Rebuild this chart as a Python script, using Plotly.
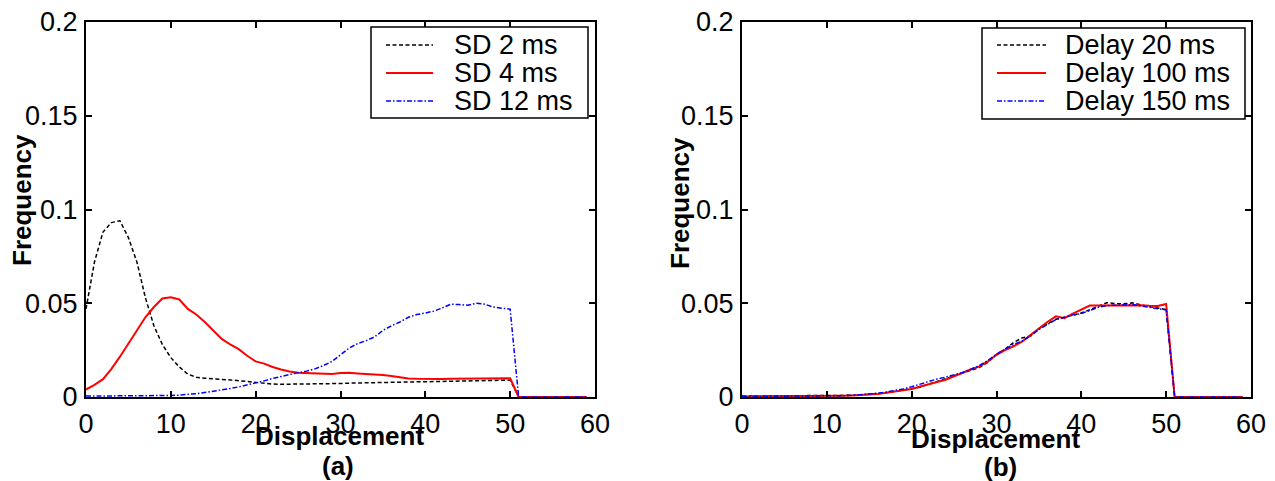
import plotly.graph_objects as go

# ---------------- data ----------------
displacement = list(range(60))

sd_2ms = [0.047, 0.072, 0.088, 0.093, 0.094, 0.085, 0.072, 0.053, 0.038, 0.028,
          0.021, 0.016, 0.0122, 0.0105, 0.0100, 0.0098, 0.0095, 0.0091, 0.0087, 0.0082,
          0.0076, 0.0071, 0.0069, 0.0068, 0.0068, 0.0069, 0.0070, 0.0071, 0.0071, 0.0071,
          0.0072, 0.0074, 0.0075, 0.0076, 0.0077, 0.0078, 0.0078, 0.0079, 0.0079, 0.0080,
          0.0080, 0.0081, 0.0082, 0.0084, 0.0085, 0.0086, 0.0087, 0.0088, 0.0089, 0.0090,
          0.0090, 0, 0, 0, 0, 0, 0, 0, 0, 0]

sd_4ms = [0.004, 0.0065, 0.0095, 0.015, 0.0215, 0.0285, 0.036, 0.0425, 0.048, 0.0525,
          0.0532, 0.052, 0.047, 0.044, 0.040, 0.0355, 0.031, 0.028, 0.0255, 0.022,
          0.019, 0.0178, 0.016, 0.0147, 0.0136, 0.013, 0.0128, 0.0128, 0.0127, 0.0123,
          0.0128, 0.0129, 0.0126, 0.0124, 0.0123, 0.0117, 0.0112, 0.0105, 0.0099, 0.0097,
          0.0096, 0.0096, 0.0096, 0.0097, 0.0098, 0.0099, 0.0099, 0.0099, 0.0099, 0.0099,
          0.0100, 0, 0, 0, 0, 0, 0, 0, 0, 0]

sd_12ms = [0.0005, 0.0005, 0.0005, 0.0005, 0.0005, 0.0005, 0.0005, 0.0005, 0.0005, 0.0006,
           0.0008, 0.0010, 0.0013, 0.0018, 0.0024, 0.0030, 0.0036, 0.0045, 0.0054, 0.0064,
           0.0074, 0.0086, 0.0099, 0.0110, 0.0120, 0.0130, 0.0138, 0.0150, 0.0168, 0.0190,
           0.0225, 0.0260, 0.0285, 0.0300, 0.0320, 0.0355, 0.0380, 0.0400, 0.0425, 0.0440,
           0.0448, 0.0458, 0.0475, 0.0495, 0.0493, 0.0490, 0.0500, 0.0495, 0.0480, 0.0475,
           0.0468, 0, 0, 0, 0, 0, 0, 0, 0, 0]

delay_20ms = [0.0005, 0.0005, 0.0005, 0.0005, 0.0005, 0.0005, 0.0005, 0.0005, 0.0005, 0.0005,
              0.0006, 0.0007, 0.0008, 0.0009, 0.0011, 0.0014, 0.0018, 0.0023, 0.0030, 0.0037,
              0.0045, 0.0052, 0.0068, 0.0083, 0.0098, 0.0115, 0.0128, 0.0143, 0.0158, 0.0185,
              0.0228, 0.0255, 0.0290, 0.0315, 0.0325, 0.0365, 0.0390, 0.0415, 0.0425, 0.0435,
              0.0448, 0.0465, 0.0485, 0.0503, 0.0498, 0.0497, 0.0502, 0.0490, 0.0482, 0.0475,
              0.0466, 0, 0, 0, 0, 0, 0, 0, 0, 0]

delay_100ms = [0.0003, 0.0003, 0.0003, 0.0003, 0.0003, 0.0003, 0.0003, 0.0003, 0.0003, 0.0004,
               0.0005, 0.0006, 0.0007, 0.0008, 0.0010, 0.0012, 0.0016, 0.0022, 0.0028, 0.0035,
               0.0043, 0.0056, 0.0070, 0.0080, 0.0092, 0.0112, 0.0131, 0.0148, 0.0163, 0.0190,
               0.0225, 0.0250, 0.0270, 0.0295, 0.0330, 0.0367, 0.0400, 0.0430, 0.0420, 0.0445,
               0.0465, 0.0488, 0.0488, 0.0488, 0.0489, 0.0490, 0.0492, 0.0490, 0.0487, 0.0485,
               0.0496, 0, 0, 0, 0, 0, 0, 0, 0, 0]

delay_150ms = [0.0003, 0.0003, 0.0003, 0.0003, 0.0003, 0.0003, 0.0003, 0.0003, 0.0003, 0.0004,
               0.0005, 0.0006, 0.0007, 0.0009, 0.0012, 0.0016, 0.0020, 0.0027, 0.0034, 0.0043,
               0.0055, 0.0068, 0.0085, 0.0096, 0.0106, 0.0118, 0.0130, 0.0148, 0.0168, 0.0195,
               0.0228, 0.0255, 0.0280, 0.0298, 0.0325, 0.0360, 0.0385, 0.0412, 0.0425, 0.0438,
               0.0445, 0.0460, 0.0478, 0.0488, 0.0490, 0.0488, 0.0493, 0.0486, 0.0478, 0.0470,
               0.0464, 0, 0, 0, 0, 0, 0, 0, 0, 0]

x_ticks = [0, 10, 20, 30, 40, 50, 60]
y_ticks = [0, 0.05, 0.1, 0.15, 0.2]
y_tick_labels = ["0", "0.05", "0.1", "0.15", "0.2"]

left_names = ["SD 2 ms", "SD 4 ms", "SD 12 ms"]
right_names = ["Delay 20 ms", "Delay 100 ms", "Delay 150 ms"]

# ---------------- styling ----------------
W, H = 1275, 481
FONT = "Liberation Sans, Arial, Helvetica, sans-serif"
styles = [
    dict(color="black", width=1.5, dash="4px,2.5px"),
    dict(color="red", width=2, dash="solid"),
    dict(color="blue", width=1.5, dash="5px,2px,1.5px,2px"),
]


def px_x(p):
    return p / W


def px_y(p):
    return 1 - p / H


fig = go.Figure()

for name, ys, st in zip(left_names, [sd_2ms, sd_4ms, sd_12ms], styles):
    fig.add_trace(go.Scatter(x=displacement, y=ys, mode="lines", name=name,
                             line=st, xaxis="x", yaxis="y", showlegend=False))
for name, ys, st in zip(right_names, [delay_20ms, delay_100ms, delay_150ms], styles):
    fig.add_trace(go.Scatter(x=displacement, y=ys, mode="lines", name=name,
                             line=st, xaxis="x2", yaxis="y2", showlegend=False))

y_domain = [px_y(397), px_y(22)]
axis_common = dict(
    showgrid=False, zeroline=False, showline=True, linecolor="black", linewidth=2,
    mirror="ticks", ticks="inside", ticklen=6, tickwidth=1.5, tickcolor="black",
    automargin=False,
    tickfont=dict(family=FONT, size=27, color="black"),
)

fig.update_layout(
    width=W, height=H,
    margin=dict(l=0, r=0, t=0, b=0, autoexpand=False),
    paper_bgcolor="white", plot_bgcolor="white",
    xaxis=dict(domain=[px_x(86), px_x(595)], range=[0, 60], tickvals=x_ticks,
               anchor="y", ticklabelstandoff=2, **axis_common),
    yaxis=dict(domain=y_domain, range=[0, 0.2], tickvals=y_ticks, ticktext=y_tick_labels,
               anchor="x", ticklabelstandoff=1, **axis_common),
    xaxis2=dict(domain=[px_x(742), px_x(1251)], range=[0, 60], tickvals=x_ticks,
                anchor="y2", ticklabelstandoff=2, **axis_common),
    yaxis2=dict(domain=y_domain, range=[0, 0.2], tickvals=y_ticks, ticktext=y_tick_labels,
                anchor="x2", ticklabelstandoff=1, **axis_common),
    showlegend=False,
)

# axis titles and panel captions
bold = dict(family=FONT, size=26, color="black", weight="bold")
labels = [
    ("Frequency", 22, 200, -90), ("Frequency", 680, 203, -90),
    ("Displacement", 339, 436, 0), ("Displacement", 995, 439, 0),
    ("(a)", 338, 466, 0), ("(b)", 1000, 467, 0),
]
for text, cx, cy, ang in labels:
    fig.add_annotation(text=text, x=px_x(cx), y=px_y(cy), xref="paper", yref="paper",
                       xanchor="center", yanchor="middle", showarrow=False,
                       textangle=ang, font=bold)

# legend boxes with line samples
legends = [
    dict(box=(371, 27, 588, 118), line=(386, 433), text_x=452, names=left_names),
    dict(box=(982, 28, 1245, 119), line=(997, 1046), text_x=1063, names=right_names),
]
row_y = [45, 73, 101]
for lg in legends:
    x0, y0, x1, y1 = lg["box"]
    fig.add_shape(type="rect", xref="paper", yref="paper",
                  x0=px_x(x0), x1=px_x(x1), y0=px_y(y1), y1=px_y(y0),
                  line=dict(color="black", width=1.5), fillcolor="white", layer="above")
    for name, ry, st in zip(lg["names"], row_y, styles):
        fig.add_shape(type="line", xref="paper", yref="paper",
                      x0=px_x(lg["line"][0]), x1=px_x(lg["line"][1]),
                      y0=px_y(ry), y1=px_y(ry), line=st, layer="above")
        fig.add_annotation(text=name, x=px_x(lg["text_x"]), y=px_y(ry),
                           xref="paper", yref="paper", xanchor="left", yanchor="middle",
                           showarrow=False,
                           font=dict(family=FONT, size=27, color="black"))

fig.write_html("out.html")
